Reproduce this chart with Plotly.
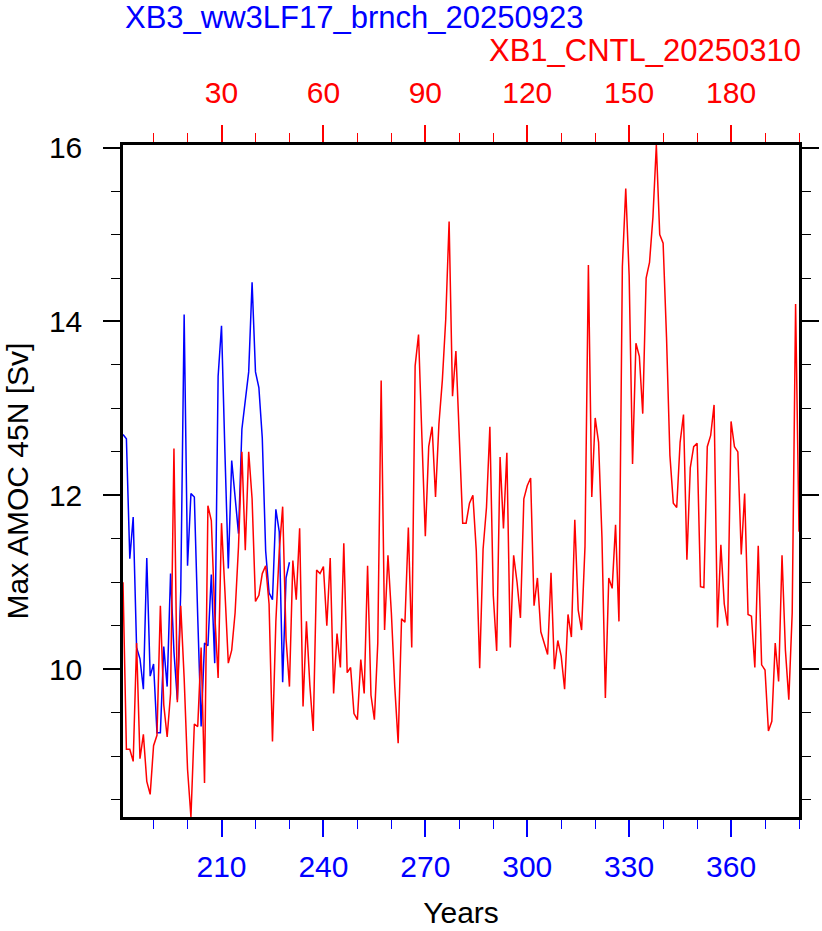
import plotly.graph_objects as go

# ---- data -------------------------------------------------------------
cntl_years = list(range(1, 201))          # top axis (XB1_CNTL_20250310)
cntl_amoc = [
    11.0, 9.08, 9.08, 8.94, 10.30, 8.97, 9.25, 8.71, 8.56, 9.12,
    9.24, 10.73, 9.59, 9.22, 9.72, 12.54, 9.62, 10.73, 9.9, 8.85,
    8.30, 9.37, 9.34, 10.25, 8.69, 11.88, 11.71, 10.65, 9.90, 11.68,
    10.90, 10.07, 10.22, 10.65, 11.41, 12.50, 11.37, 12.50, 11.96, 10.78,
    10.85, 11.10, 11.19, 10.75, 9.17, 10.55, 11.36, 11.87, 10.35, 9.80,
    11.25, 10.80, 11.62, 9.57, 10.55, 9.82, 9.29, 11.14, 11.10, 11.18,
    10.50, 11.28, 9.72, 10.41, 10.02, 11.45, 9.96, 10.02, 9.49, 9.42,
    10.11, 9.72, 11.19, 9.70, 9.42, 10.30, 13.32, 10.45, 11.31, 10.65,
    9.80, 9.15, 10.58, 10.54, 11.63, 10.25, 13.49, 13.85, 12.66, 11.53,
    12.56, 12.79, 11.98, 12.82, 13.32, 14.02, 15.15, 13.14, 13.66, 12.60,
    11.68, 11.68, 11.91, 12.00, 11.36, 10.01, 11.38, 11.86, 12.79, 10.85,
    10.21, 12.44, 11.62, 12.49, 10.25, 11.31, 11.00, 10.59, 11.96, 12.11,
    12.20, 10.73, 11.05, 10.43, 10.30, 10.17, 11.11, 10.00, 10.33, 10.15,
    9.77, 10.63, 10.37, 11.72, 10.68, 10.45, 11.41, 14.65, 11.98, 12.89,
    12.61, 11.51, 9.67, 11.05, 10.93, 11.66, 10.55, 14.63, 15.53, 14.53,
    12.36, 13.75, 13.60, 12.94, 14.50, 14.68, 15.20, 16.03, 15.00, 14.90,
    13.82, 12.46, 11.91, 11.86, 12.61, 12.93, 11.26, 12.32, 12.56, 12.60,
    10.95, 10.94, 12.56, 12.69, 13.04, 10.48, 11.43, 10.75, 10.50, 12.85,
    12.56, 12.50, 11.32, 12.02, 10.63, 10.61, 10.02, 11.42, 10.05, 9.99,
    9.29, 9.40, 10.30, 9.86, 11.31, 10.22, 9.65, 10.65, 14.20, 11.58,
]

brnch_years = list(range(181, 231))       # bottom axis (XB3_ww3LF17_brnch_20250923)
brnch_amoc = [
    12.70, 12.65, 11.27, 11.75, 10.25, 10.12, 9.77, 11.28, 9.92, 10.06,
    9.27, 9.27, 10.26, 9.80, 11.10, 10.20, 9.65, 10.90, 14.08, 11.19,
    12.02, 11.98, 10.60, 9.34, 10.30, 10.27, 11.09, 10.07, 13.37, 13.95,
    12.50, 11.16, 12.40, 11.98, 11.56, 12.76, 13.07, 13.42, 14.45, 13.42,
    13.24, 12.66, 11.36, 10.88, 10.80, 11.84, 11.58, 9.85, 11.05, 11.23,
]

bottom_range = [181, 380]
top_range = [1, 200]
y_range = [8.30, 16.03]

FONT = "Liberation Sans"
FS = 30
FS_TITLE = 31

fig = go.Figure()
fig.add_trace(go.Scatter(x=brnch_years, y=brnch_amoc, mode="lines",
                         line=dict(color="#0000ff", width=1.5),
                         xaxis="x", yaxis="y", showlegend=False))
fig.add_trace(go.Scatter(x=cntl_years, y=cntl_amoc, mode="lines",
                         line=dict(color="#ff0000", width=1.5),
                         xaxis="x2", yaxis="y", showlegend=False))

fig.update_layout(
    width=822, height=931,
    margin=dict(l=123, r=23, t=145, b=114, autoexpand=False),
    paper_bgcolor="white", plot_bgcolor="white",
    font=dict(family=FONT, size=FS, color="black"),
    xaxis=dict(
        range=bottom_range, showgrid=False, zeroline=False, automargin=False,
        showline=True, linecolor="black", linewidth=2.5,
        ticks="outside", ticklen=17, tickwidth=1.5, tickcolor="#0000ff",
        tick0=0, dtick=30,
        tickfont=dict(color="#0000ff", size=FS, family=FONT),
        ticklabelstandoff=4,
        minor=dict(dtick=10, ticks="outside", ticklen=9, tickwidth=1.2,
                   tickcolor="#0000ff", showgrid=False),
        title=dict(text="Years", font=dict(size=FS, color="black"), standoff=21),
    ),
    xaxis2=dict(
        range=top_range, overlaying="x", side="top", anchor="y", automargin=False,
        showgrid=False, zeroline=False,
        showline=True, linecolor="black", linewidth=2.5,
        ticks="outside", ticklen=17, tickwidth=1.5, tickcolor="#ff0000",
        tick0=0, dtick=30,
        tickfont=dict(color="#ff0000", size=FS, family=FONT),
        ticklabelstandoff=10,
        minor=dict(dtick=10, ticks="outside", ticklen=9, tickwidth=1.2,
                   tickcolor="#ff0000", showgrid=False),
    ),
    yaxis=dict(
        range=y_range, showgrid=False, zeroline=False, automargin=False,
        showline=True, linecolor="black", linewidth=2.5, mirror="ticks",
        ticks="outside", ticklen=17, tickwidth=1.5, tickcolor="black",
        tick0=0, dtick=2,
        tickfont=dict(color="black", size=FS, family=FONT),
        ticklabelstandoff=15,
        minor=dict(dtick=0.5, ticks="outside", ticklen=9, tickwidth=1.2,
                   tickcolor="black", showgrid=False),
        title=dict(text="Max AMOC 45N [Sv]", font=dict(size=FS, color="black"), standoff=12),
    ),
    annotations=[
        dict(text="XB3_ww3LF17_brnch_20250923", xref="paper", yref="paper",
             x=0.0, y=1.189, xanchor="left", yanchor="middle", showarrow=False,
             font=dict(color="#0000ff", size=FS_TITLE, family=FONT)),
        dict(text="XB1_CNTL_20250310", xref="paper", yref="paper",
             x=1.006, y=1.140, xanchor="right", yanchor="middle", showarrow=False,
             font=dict(color="#ff0000", size=FS_TITLE, family=FONT)),
    ],
)

fig.write_html("out.html")
